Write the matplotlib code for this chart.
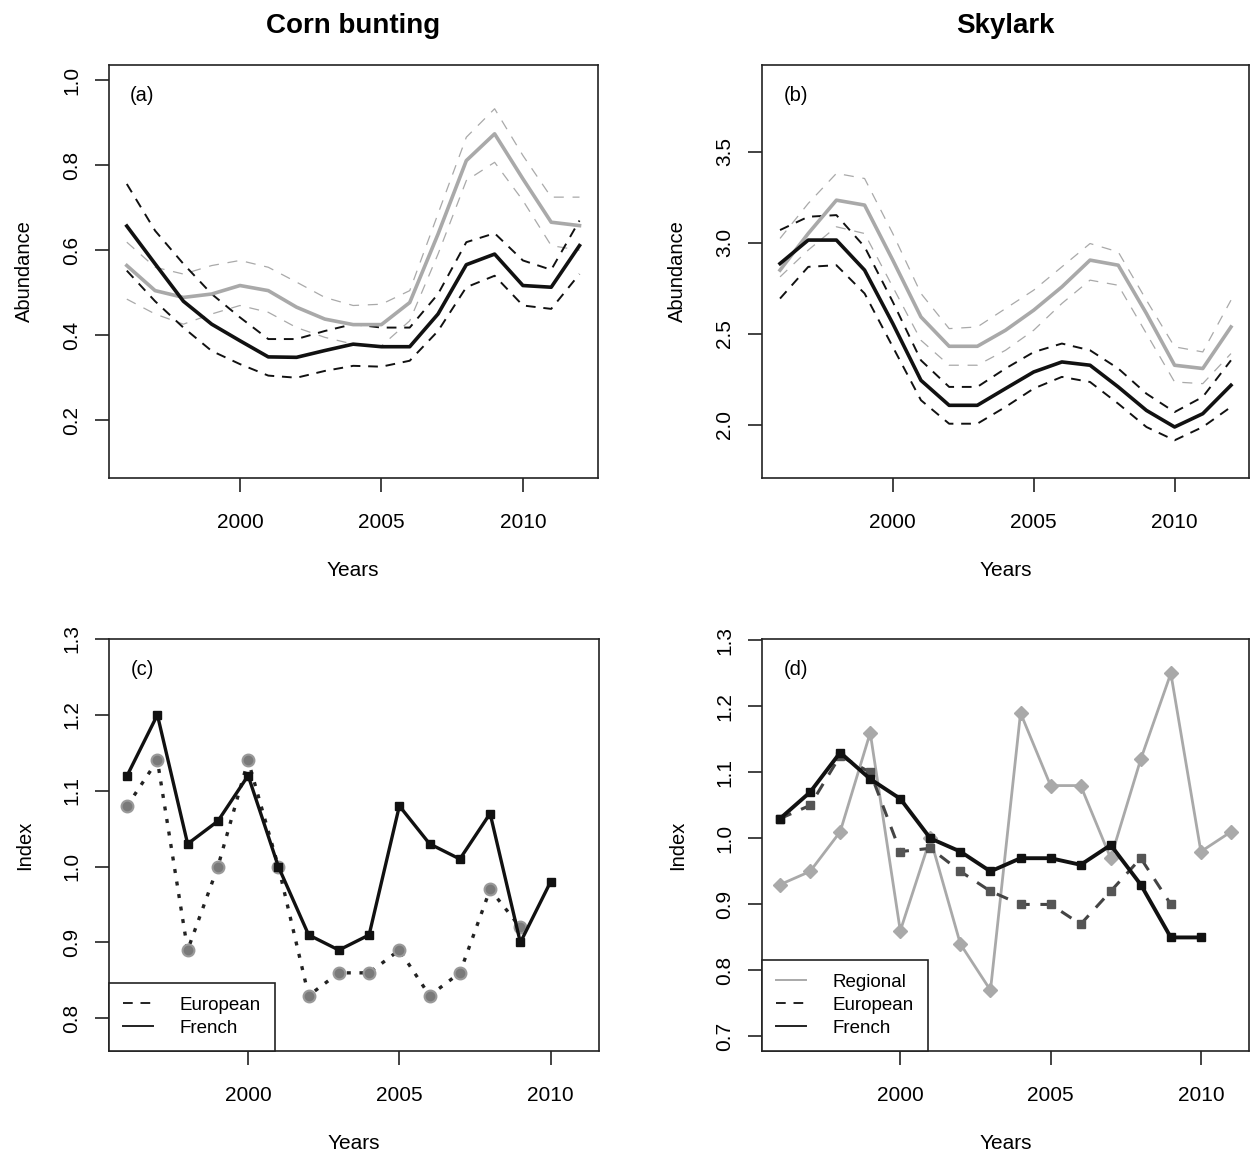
import matplotlib
matplotlib.use("Agg")
import matplotlib.pyplot as plt
import numpy as np

plt.rcParams['font.family'] = ['Liberation Sans', 'DejaVu Sans']

# ---- data ----
years_a = np.arange(1996, 2013)

# (a) Corn bunting abundance
cb_black = [0.657, 0.568, 0.480, 0.426, 0.387, 0.349, 0.348, 0.364, 0.379, 0.373, 0.373, 0.450, 0.566, 0.591, 0.517, 0.513, 0.611]
cb_black_hi = [0.756, 0.646, 0.568, 0.497, 0.442, 0.391, 0.391, 0.410, 0.426, 0.418, 0.418, 0.497, 0.619, 0.640, 0.576, 0.554, 0.670]
cb_black_lo = [0.552, 0.480, 0.418, 0.363, 0.332, 0.305, 0.300, 0.316, 0.328, 0.326, 0.340, 0.410, 0.513, 0.540, 0.470, 0.462, 0.544]
cb_grey = [0.564, 0.505, 0.489, 0.497, 0.517, 0.505, 0.466, 0.438, 0.425, 0.425, 0.477, 0.638, 0.811, 0.874, 0.768, 0.666, 0.658]
cb_grey_hi = [0.619, 0.560, 0.544, 0.564, 0.576, 0.560, 0.525, 0.489, 0.470, 0.473, 0.505, 0.686, 0.866, 0.933, 0.823, 0.725, 0.725]
cb_grey_lo = [0.485, 0.450, 0.426, 0.450, 0.470, 0.454, 0.418, 0.395, 0.379, 0.375, 0.434, 0.591, 0.764, 0.807, 0.717, 0.611, 0.600]

# (b) Skylark abundance
sk_black = [2.886, 3.015, 3.015, 2.850, 2.557, 2.245, 2.108, 2.108, 2.200, 2.291, 2.346, 2.328, 2.209, 2.080, 1.989, 2.062, 2.218]
sk_black_hi = [3.070, 3.143, 3.152, 2.978, 2.676, 2.355, 2.209, 2.209, 2.310, 2.400, 2.447, 2.410, 2.310, 2.172, 2.071, 2.154, 2.355]
sk_black_lo = [2.694, 2.868, 2.877, 2.722, 2.429, 2.136, 2.007, 2.007, 2.099, 2.200, 2.264, 2.236, 2.117, 1.989, 1.916, 1.989, 2.099]
sk_grey = [2.850, 3.051, 3.234, 3.207, 2.905, 2.593, 2.432, 2.432, 2.520, 2.630, 2.758, 2.905, 2.877, 2.612, 2.328, 2.310, 2.538]
sk_grey_hi = [3.024, 3.216, 3.381, 3.353, 3.051, 2.722, 2.529, 2.538, 2.639, 2.740, 2.868, 2.996, 2.950, 2.685, 2.429, 2.401, 2.685]
sk_grey_lo = [2.813, 2.960, 3.088, 3.051, 2.758, 2.465, 2.328, 2.328, 2.410, 2.520, 2.667, 2.795, 2.767, 2.502, 2.236, 2.227, 2.392]

# (c) Corn bunting index
years_c_fr = np.arange(1996, 2011)
cb_french = [1.12, 1.20, 1.03, 1.06, 1.12, 1.00, 0.91, 0.89, 0.91, 1.08, 1.03, 1.01, 1.07, 0.90, 0.98]
years_c_eu = np.arange(1996, 2010)
cb_europe = [1.08, 1.14, 0.89, 1.00, 1.14, 1.00, 0.83, 0.86, 0.86, 0.89, 0.83, 0.86, 0.97, 0.92]

# (d) Skylark index
years_d_reg = np.arange(1996, 2012)
sk_regional = [0.93, 0.95, 1.01, 1.16, 0.86, 1.00, 0.84, 0.77, 1.19, 1.08, 1.08, 0.97, 1.12, 1.25, 0.98, 1.01]
years_d_eu = np.arange(1996, 2010)
sk_europe = [1.03, 1.05, 1.125, 1.10, 0.98, 0.985, 0.95, 0.92, 0.90, 0.90, 0.87, 0.92, 0.97, 0.90]
years_d_fr = np.arange(1996, 2011)
sk_french = [1.03, 1.07, 1.13, 1.09, 1.06, 1.00, 0.98, 0.95, 0.97, 0.97, 0.96, 0.99, 0.93, 0.85, 0.85]

GREY = '#a9a9a9'
W, H = 1250, 1156
fig = plt.figure(figsize=(W / 100, H / 100), dpi=100)


def box(l, r, t, b):
    return [l / W, 1 - b / H, (r - l) / W, (b - t) / H]


def style(ax, yticks, ylabel, letter):
    for s in ax.spines.values():
        s.set_linewidth(1.2)
        s.set_color('#222222')
    ax.set_xticks([2000, 2005, 2010])
    ax.set_yticks(yticks)
    ax.set_yticklabels(['%.1f' % v for v in yticks])
    ax.tick_params(length=10, width=1.2, color='#222222', labelsize=15)
    ax.tick_params(axis='x', pad=15)
    ax.tick_params(axis='y', pad=10)
    for lab in ax.get_yticklabels():
        lab.set_rotation(90)
        lab.set_va('center')
        lab.set_ha('right')
    ax.set_xlabel('Years', fontsize=15, labelpad=21)
    ax.set_ylabel(ylabel, fontsize=14.5, labelpad=20)
    ax.text(0.044, 0.925, letter, transform=ax.transAxes, fontsize=14.5, ha='left', va='center')


def ci_panel(ax, x, m1, h1, l1, m2, h2, l2):
    for s in (h2, l2):
        ax.plot(x, s, color=GREY, lw=0.9, dashes=(8, 7))
    for s in (h1, l1):
        ax.plot(x, s, color='#111111', lw=1.4, dashes=(5, 4))
    ax.plot(x, m2, color=GREY, lw=2.6)
    ax.plot(x, m1, color='#111111', lw=2.6)


def add_legend(ax, handles, labels):
    leg = ax.legend(handles, labels, loc='lower left', borderaxespad=0,
                    fancybox=False, framealpha=1, edgecolor='#222222', fontsize=13.5,
                    handlelength=1.6, handletextpad=1.4, borderpad=0.75, labelspacing=0.32)
    leg.get_frame().set_linewidth(1.2)


# (a)
ax = fig.add_axes(box(108.7, 597.6, 65, 478))
ci_panel(ax, years_a, cb_black, cb_black_hi, cb_black_lo, cb_grey, cb_grey_hi, cb_grey_lo)
ax.set_xlim(1995.36, 2012.64)
ax.set_ylim(0.064, 1.036)
style(ax, [0.2, 0.4, 0.6, 0.8, 1.0], 'Abundance', '(a)')
ax.set_title('Corn bunting', fontsize=20, fontweight='bold', pad=23)

# (b)
ax = fig.add_axes(box(762, 1249, 65, 478))
ci_panel(ax, years_a, sk_black, sk_black_hi, sk_black_lo, sk_grey, sk_grey_hi, sk_grey_lo)
ax.set_xlim(1995.36, 2012.64)
ax.set_ylim(1.709, 3.976)
style(ax, [2.0, 2.5, 3.0, 3.5], 'Abundance', '(b)')
ax.set_title('Skylark', fontsize=20, fontweight='bold', pad=23)

# (c)
ax = fig.add_axes(box(109, 599, 639, 1051))
ax.plot(years_c_eu, cb_europe, color='#222222', lw=2.4, dashes=(1.2, 2.6),
        marker='o', ms=8.5, mfc='#7a7a7a', mec='#9a9a9a', mew=1.5)
ax.plot(years_c_fr, cb_french, color='#111111', lw=2.4, marker='s', ms=6)
ax.set_xlim(1995.4, 2011.6)
ax.set_ylim(0.757, 1.30)
style(ax, [0.8, 0.9, 1.0, 1.1, 1.2, 1.3], 'Index', '(c)')
h_eu, = ax.plot([], [], color='#222222', lw=1.4, dashes=(5, 4))
h_fr, = ax.plot([], [], color='#222222', lw=1.4)
add_legend(ax, [h_eu, h_fr], ['European', 'French'])

# (d)
ax = fig.add_axes(box(762, 1249, 639, 1051))
ax.plot(years_d_reg, sk_regional, color=GREY, lw=2.0, marker='D', ms=7, mfc=GREY, mec=GREY)
ax.plot(years_d_eu, sk_europe, color='#444444', lw=2.2, dashes=(4, 3.5), marker='s', ms=6,
        mfc='#555555', mec='#555555')
ax.plot(years_d_fr, sk_french, color='#111111', lw=2.8, marker='s', ms=6)
ax.set_xlim(1995.4, 2011.6)
ax.set_ylim(0.678, 1.302)
style(ax, [0.7, 0.8, 0.9, 1.0, 1.1, 1.2, 1.3], 'Index', '(d)')
h_rg, = ax.plot([], [], color=GREY, lw=1.4)
h_eu, = ax.plot([], [], color='#222222', lw=1.4, dashes=(5, 4))
h_fr, = ax.plot([], [], color='#222222', lw=1.4)
add_legend(ax, [h_rg, h_eu, h_fr], ['Regional', 'European', 'French'])

fig.savefig('out.png', dpi=100)
